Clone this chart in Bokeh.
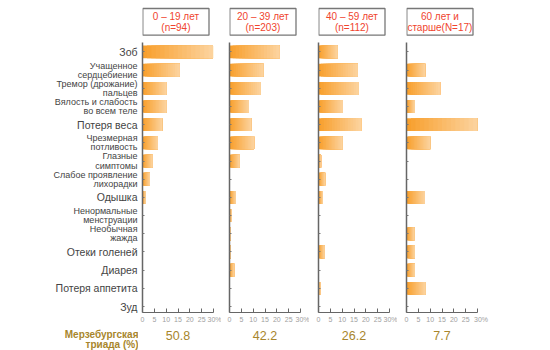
from bokeh.plotting import figure
from bokeh.layouts import row, column
from bokeh.models import Range1d, FixedTicker, ColumnDataSource
from bokeh.core.properties import value
from bokeh.embed import file_html
from bokeh.resources import INLINE

# ---------------- data ----------------
symptoms = ["Зоб", "Учащенное\nсердцебиение", "Тремор (дрожание)\nпальцев",
            "Вялость и слабость\nво всем теле", "Потеря веса", "Чрезмерная\nпотливость",
            "Глазные\nсимптомы", "Слабое проявление\nлихорадки", "Одышка",
            "Ненормальные\nменструации", "Необычная\nжажда", "Отеки голеней",
            "Диарея", "Потеря аппетита", "Зуд"]

groups = ["0 – 19 лет\n(n=94)", "20 – 39 лет\n(n=203)", "40 – 59 лет\n(n=112)", "60 лет и\nстарше(N=17)"]

age_0_19  = [29.8, 15.7, 10.1, 10.1, 8.3, 6.5, 4.2, 3.1, 1.3, 0, 0, 0, 0, 0, 0]
age_20_39 = [21.1, 14.3, 13.2, 8.2, 9.2, 10.4, 4.2, 0, 2.7, 1.0, 0.6, 0.6, 2.0, 0, 0]
age_40_59 = [8.0, 16.6, 17.0, 10.3, 18.0, 10.1, 1.1, 2.8, 1.9, 0, 0, 2.5, 0, 0.8, 0]
age_60    = [0, 7.9, 14.2, 3.5, 30.0, 10.0, 0, 0, 7.8, 0, 3.3, 3.5, 3.5, 8.0, 0]
series = [age_0_19, age_20_39, age_40_59, age_60]

merseburg_title = "Мерзебургская\nтриада (%)"
merseburg = ["50.8", "42.2", "26.2", "7.7"]
x_ticks = [0, 5, 10, 15, 20, 25, 30]
x_tick_labels = {30: "\u200330%"}

FONT = "Liberation Sans"
GOLD = "#a8862c"
C_LEFT = (248, 160, 46)
C_RIGHT = (252, 210, 156)
N_SLICES = 16

# ---------------- geometry ----------------
H = 350
HEADER_H = 42
FRAME_W = 71
Y_TOP, Y_BOT = -0.52, 14.33
PANEL_TOP, PANEL_BOT = 0, 38
FRAME_H = H - HEADER_H - PANEL_TOP - PANEL_BOT
PX_PER_UNIT = FRAME_H / (Y_BOT - Y_TOP)

LABEL_W = 138
panel_borders = [(4, 8), (8, 9), (9, 8), (9, 73)]
BOX = dict(left=0.3, right=66.5, top=34, bottom=7.3)   # header box, in header-pixel units

# ---------------- label column ----------------
lab = figure(width=LABEL_W, height=H, output_backend="svg", toolbar_location=None,
             x_range=Range1d(0, LABEL_W),
             y_range=Range1d(Y_BOT + (H - HEADER_H - FRAME_H) / PX_PER_UNIT,
                             Y_TOP - HEADER_H / PX_PER_UNIT),
             x_axis_location=None, y_axis_location=None, min_border=0)
lab.outline_line_color = None
lab.grid.visible = False
single = [i for i, s in enumerate(symptoms) if "\n" not in s]
double = [i for i, s in enumerate(symptoms) if "\n" in s]
lab.text(x=[LABEL_W - 1] * len(single), y=single, text=[symptoms[i] for i in single],
         text_align="right", text_baseline="middle", text_font=value(FONT),
         text_font_size="10.5px", text_color="#444444")
lab.text(x=[LABEL_W - 1] * len(double), y=double, text=[symptoms[i] for i in double],
         text_align="right", text_baseline="middle", text_font=value(FONT),
         text_font_size="9px", text_color="#444444", text_line_height=0.92)
lab.text(x=[LABEL_W], y=[Y_BOT + 27 / PX_PER_UNIT], text=[merseburg_title],
         text_align="right", text_baseline="middle", text_font=value(FONT),
         text_font_size="10px", text_font_style="bold", text_color=GOLD, text_line_height=0.95)

cols = [lab]
for gi, (vals, grp) in enumerate(zip(series, groups)):
    bl, br = panel_borders[gi]
    fw = bl + FRAME_W + br

    # header: same frame as the panel below, box drawn inside
    hdr = figure(width=fw, height=HEADER_H, output_backend="svg", toolbar_location=None,
                 x_range=Range1d(0, FRAME_W), y_range=Range1d(0, HEADER_H),
                 x_axis_location=None, y_axis_location=None,
                 min_border_left=bl, min_border_right=br, min_border_top=0, min_border_bottom=0)
    hdr.grid.visible = False
    hdr.outline_line_color = None
    hdr.quad(left=[BOX["left"]], right=[BOX["right"]], top=[BOX["top"]], bottom=[BOX["bottom"]],
             fill_color="white", line_color="#777777", line_width=1.3)
    hdr.text(x=[(BOX["left"] + BOX["right"]) / 2], y=[(BOX["top"] + BOX["bottom"]) / 2],
             text=[grp], text_align="center", text_baseline="middle",
             text_font=value(FONT), text_font_size="10px", text_color="#f0442e",
             text_line_height=0.95)

    p = figure(width=fw, height=H - HEADER_H, output_backend="svg", toolbar_location=None,
               x_range=Range1d(0, 30), y_range=Range1d(Y_BOT, Y_TOP),
               min_border_left=bl, min_border_right=br,
               min_border_top=PANEL_TOP, min_border_bottom=PANEL_BOT)
    p.outline_line_color = None
    p.grid.visible = False

    # gradient bars: overlapping slices along each bar's own length
    left, right, ys, colors = [], [], [], []
    for i, v in enumerate(vals):
        if v <= 0:
            continue
        for k in range(N_SLICES):
            t = k / (N_SLICES - 1)
            c = tuple(int(round(C_LEFT[j] + (C_RIGHT[j] - C_LEFT[j]) * t)) for j in range(3))
            left.append(v * k / N_SLICES)
            right.append(v)
            ys.append(i)
            colors.append("#%02x%02x%02x" % c)
    src = ColumnDataSource(dict(left=left, right=right, y=ys, color=colors))
    p.hbar(y="y", left="left", right="right", height=0.7, fill_color="color",
           line_color=None, source=src)

    xa = p.xaxis[0]
    xa.ticker = FixedTicker(ticks=x_ticks)
    xa.major_label_overrides = x_tick_labels
    xa.axis_line_color = "#666666"
    xa.axis_line_width = 1.2
    xa.major_tick_in = 4
    xa.major_tick_out = 0
    xa.major_tick_line_color = "#666666"
    xa.minor_tick_line_color = None
    xa.major_label_text_font = FONT
    xa.major_label_text_font_size = "7px"
    xa.major_label_text_color = "#a0a0a0"
    xa.major_label_standoff = 3
    xa.axis_label = merseburg[gi]
    xa.axis_label_text_font = FONT
    xa.axis_label_text_font_size = "12.5px"
    xa.axis_label_text_font_style = "normal"
    xa.axis_label_text_color = GOLD
    xa.axis_label_standoff = 5

    ya = p.yaxis[0]
    ya.ticker = FixedTicker(ticks=list(range(len(symptoms))))
    ya.major_label_overrides = {i: "" for i in range(len(symptoms))}
    ya.axis_line_color = "#666666"
    ya.axis_line_width = 1.5
    ya.major_tick_in = 2
    ya.major_tick_out = 0
    ya.major_tick_line_color = "#777777"
    ya.minor_tick_line_color = None
    ya.major_label_standoff = 0

    cols.append(column(hdr, p, spacing=0))

layout = row(*cols, spacing=0)
open("out.html", "w").write(file_html(layout, INLINE))
